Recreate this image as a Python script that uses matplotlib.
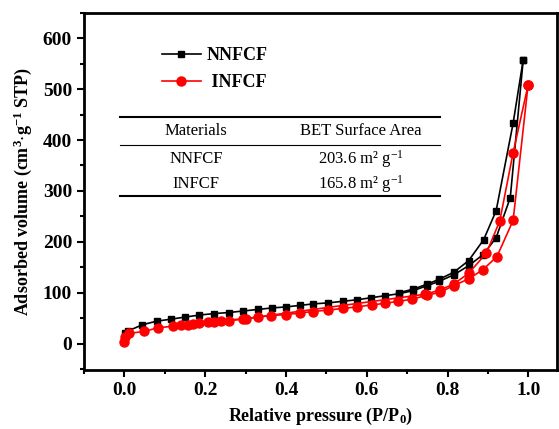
import matplotlib
matplotlib.use('Agg')
import numpy as np
import matplotlib.pyplot as plt
from matplotlib.ticker import MultipleLocator

plt.rcParams['font.family'] = 'Liberation Serif'
plt.rcParams['mathtext.fontset'] = 'custom'
plt.rcParams['mathtext.rm'] = 'Liberation Serif'
plt.rcParams['mathtext.default'] = 'regular'

# NNFCF isotherm (adsorption + desorption)
nn_ads_p = [0.001, 0.01, 0.045, 0.08, 0.116, 0.15, 0.186, 0.223, 0.259, 0.294, 0.33,
            0.365, 0.4, 0.434, 0.468, 0.505, 0.54, 0.575, 0.61, 0.645, 0.68, 0.715,
            0.75, 0.778, 0.815, 0.852, 0.888, 0.92, 0.955, 0.987]
nn_ads_v = [20, 25, 37, 44, 48, 52, 56, 59, 61, 64, 67, 70, 72, 75, 78, 80, 83, 86,
            90, 94, 98, 104, 114, 122, 135, 153, 175, 208, 287, 558]
nn_des_p = [0.987, 0.962, 0.92, 0.889, 0.852, 0.815, 0.778, 0.75, 0.715, 0.68]
nn_des_v = [558, 433, 261, 204, 163, 140, 126, 117, 107, 100]

# INFCF isotherm (adsorption + desorption)
in_ads_p = [0.0, 0.002, 0.012, 0.05, 0.083, 0.12, 0.157, 0.186, 0.223, 0.26, 0.294,
            0.331, 0.364, 0.401, 0.434, 0.467, 0.505, 0.541, 0.575, 0.612, 0.645,
            0.678, 0.711, 0.749, 0.782, 0.815, 0.852, 0.887, 0.922, 0.962, 0.999]
in_ads_v = [3, 12, 20, 24, 31, 34, 37, 40, 43, 45, 48, 52, 55, 57, 60, 63, 66, 69,
            72, 76, 79, 83, 87, 95, 101, 114, 127, 145, 171, 242, 508]
in_des_p = [0.999, 0.962, 0.929, 0.896, 0.852, 0.815, 0.78, 0.745, 0.3, 0.24, 0.207, 0.17, 0.14]
in_des_v = [508, 375, 241, 178, 138, 117, 105, 97, 49, 45, 42, 39, 36]

materials = ['NNFCF', 'INFCF']
bet_area = ['203.6', '165.8']

fig = plt.figure(figsize=(5.59, 4.29), dpi=100)
ax = fig.add_axes([0.150, 0.1375, 0.846, 0.8325])

ax.plot(nn_ads_p, nn_ads_v, '-s', color='black', ms=5, lw=1.2, label='NNFCF')
ax.plot(nn_des_p, nn_des_v, '-s', color='black', ms=5, lw=1.2)
ax.plot(in_ads_p, in_ads_v, '-o', color='red', ms=6.5, lw=1.2, label=' INFCF')
ax.plot(in_des_p, in_des_v, '-o', color='red', ms=6.5, lw=1.2)

ax.set_xlim(-0.1, 1.07)
ax.set_ylim(-52, 650)
ax.xaxis.set_major_locator(MultipleLocator(0.2))
ax.xaxis.set_minor_locator(MultipleLocator(0.1))
ax.yaxis.set_major_locator(MultipleLocator(100))
ax.yaxis.set_minor_locator(MultipleLocator(50))
ax.tick_params(which='both', direction='out', width=1.5, labelsize=14)
ax.tick_params(which='major', length=5)
ax.tick_params(which='minor', length=3)
for lab in ax.get_xticklabels() + ax.get_yticklabels():
    lab.set_fontweight('bold')
for s in ax.spines.values():
    s.set_linewidth(2)

ax.set_xlabel('Relative pressure (P/P$_0$)', fontsize=13, fontweight='bold', labelpad=5)
ax.set_ylabel('Adsorbed volume (cm$^3$$\\cdot$g$^{-1}$ STP)', fontsize=13,
              fontweight='bold', labelpad=6)

ax.legend(loc='upper left', bbox_to_anchor=(0.13, 0.95), frameon=False,
          prop={'weight': 'bold', 'size': 13}, handlelength=2.2,
          handletextpad=0.3, labelspacing=0.55)

# BET table
x0, x1 = 0.076, 0.753
ax.plot([x0, x1], [0.709, 0.709], color='black', lw=1.5, transform=ax.transAxes)
ax.plot([x0, x1], [0.630, 0.630], color='black', lw=0.8, transform=ax.transAxes)
ax.plot([x0, x1], [0.487, 0.487], color='black', lw=1.5, transform=ax.transAxes)
ax.text(0.237, 0.669, 'Materials', ha='center', va='center', fontsize=12, transform=ax.transAxes)
ax.text(0.586, 0.669, 'BET Surface Area', ha='center', va='center', fontsize=12, transform=ax.transAxes)
for i, (m, a) in enumerate(zip(materials, bet_area)):
    y = 0.590 - i * 0.07
    ax.text(0.237, y, m, ha='center', va='center', fontsize=12, transform=ax.transAxes)
    ax.text(0.586, y, a + ' m² g$^{-1}$', ha='center', va='center', fontsize=12,
            transform=ax.transAxes)

fig.savefig('out.png', dpi=100)
